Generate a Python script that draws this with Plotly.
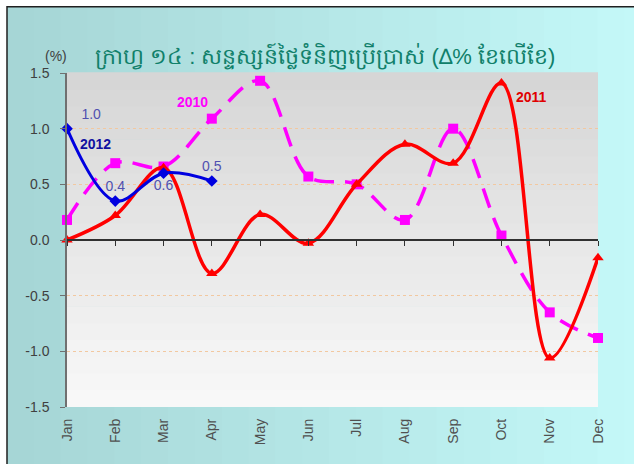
import plotly.graph_objects as go


# ---------------------------------------------------
# Data
# ---------------------------------------------------
MONTHS = ["Jan", "Feb", "Mar", "Apr", "May", "Jun",
          "Jul", "Aug", "Sep", "Oct", "Nov", "Dec"]

Y2010 = [0.18, 0.69, 0.66, 1.09, 1.43, 0.57, 0.50, 0.18, 1.00, 0.04, -0.65, -0.88]
Y2011 = [0.00, 0.22, 0.65, -0.30, 0.23, -0.03, 0.50, 0.86, 0.69, 1.41, -1.06, -0.16]
Y2012 = [1.00, 0.35, 0.60, 0.53]
LABELS_2012 = ["  1.0", "0.4", "0.6", "0.5"]

Y_TICKS = [-1.5, -1.0, -0.5, 0.0, 0.5, 1.0, 1.5]
Y_TICKTEXT = ["-1.5", "-1.0", "-0.5", "0.0", "0.5", "1.0", "1.5"]

TITLE = "ក្រាហ្វ ១៤ : សន្ទស្សន៍ថ្លៃទំនិញប្រើប្រាស់ (∆% ខែលើខែ)"

# ---------------------------------------------------
# Colors
# ---------------------------------------------------
MAGENTA = "#FF00FF"
RED = "#FF0000"
BLUE = "#0000E0"
FONT = "Liberation Sans, Arial, sans-serif"


def mix(c1, c2, t):
    a = [int(c1[i:i + 2], 16) for i in (1, 3, 5)]
    b = [int(c2[i:i + 2], 16) for i in (1, 3, 5)]
    return "#" + "".join(f"{round(a[k] + (b[k] - a[k]) * t):02x}" for k in range(3))


fig = go.Figure()

# background: teal frame gradient (left darker -> right lighter)
shapes = []
n = 24
fx0, fx1 = -0.113, 1.1
for i in range(n):
    t = i / (n - 1)
    shapes.append(dict(
        type="rect", xref="paper", yref="paper", layer="below",
        x0=fx0 + (fx1 - fx0) * i / n, x1=fx0 + (fx1 - fx0) * (i + 1) / n + 0.002,
        y0=-0.25, y1=1.198, line_width=0,
        fillcolor=mix("#a6d6d6", "#c4f8f8", t)))
# frame border
shapes.append(dict(type="rect", xref="paper", yref="paper", layer="below",
                   x0=fx0, x1=1.2, y0=-0.3, y1=1.198,
                   line=dict(color="#202020", width=1.5)))
# plot area gradient (top grey -> bottom white)
m = 20
for i in range(m):
    t = i / (m - 1)
    shapes.append(dict(
        type="rect", xref="paper", yref="paper", layer="below",
        x0=0, x1=1, y0=i / m, y1=(i + 1) / m + 0.002, line_width=0,
        fillcolor=mix("#f8f8f8", "#d6d6d6", t)))

# ---------------------------------------------------
# Series
# ---------------------------------------------------
fig.add_trace(go.Scatter(
    x=MONTHS, y=Y2010, mode="lines+markers", name="2010",
    line=dict(color=MAGENTA, width=3.5, dash="20px,11px", shape="spline", smoothing=1.0),
    marker=dict(symbol="square", size=10, color=MAGENTA),
    cliponaxis=False))

fig.add_trace(go.Scatter(
    x=MONTHS, y=Y2011, mode="lines+markers", name="2011",
    line=dict(color=RED, width=3.5, shape="spline", smoothing=1.0),
    marker=dict(symbol="triangle-up", size=10, color=RED),
    cliponaxis=False))

fig.add_trace(go.Scatter(
    x=MONTHS[:len(Y2012)], y=Y2012, mode="lines+markers+text", name="2012",
    line=dict(color=BLUE, width=3, shape="spline", smoothing=1.0),
    marker=dict(symbol="diamond", size=9, color=BLUE),
    text=LABELS_2012,
    textposition=["top right", "top center", "bottom center", "top center"],
    textfont=dict(family=FONT, size=14, color="#5050B0"),
    cliponaxis=False))

# dummy trace so the zero-line axis is drawn
fig.add_trace(go.Scatter(x=[], y=[], xaxis="x2", showlegend=False))

# ---------------------------------------------------
# Labels
# ---------------------------------------------------
annotations = [
    dict(text=TITLE, xref="paper", yref="paper", x=0.486, y=1.095,
         showarrow=False, font=dict(size=22, color="#10806A")),
    dict(text="(%)", xref="paper", yref="paper", x=-0.02, y=1.05,
         xanchor="center", yanchor="middle",
         showarrow=False, font=dict(family=FONT, size=14, color="#404040")),
    dict(text="<b>2010</b>", x=2.6, y=1.24, showarrow=False,
         font=dict(family=FONT, size=14, color=MAGENTA)),
    dict(text="<b>2011</b>", x=9.62, y=1.28, showarrow=False,
         font=dict(family=FONT, size=14, color="#E00000")),
    dict(text="<b>2012</b>", x=0.58, y=0.86, showarrow=False,
         font=dict(family=FONT, size=14, color="#1010A0")),
]

fig.update_layout(
    width=634, height=464,
    margin=dict(l=67, r=36, t=73, b=57),
    paper_bgcolor="white", plot_bgcolor="rgba(0,0,0,0)",
    showlegend=False,
    shapes=shapes, annotations=annotations,
    font=dict(family=FONT),
    xaxis=dict(
        type="category", range=[0, 11], showgrid=False, zeroline=False,
        showline=False, ticks="", tickangle=-90, ticklabelstandoff=8,
        tickfont=dict(family=FONT, size=14, color="#505050")),
    xaxis2=dict(
        type="linear", range=[0, 11], overlaying="x", anchor="free", position=0.5,
        tick0=0, dtick=1, ticks="outside", ticklen=5, tickcolor="#303030",
        showticklabels=False, showgrid=False, zeroline=False,
        showline=True, linecolor="#303030", linewidth=1.5),
    yaxis=dict(
        range=[-1.5, 1.5], tickvals=Y_TICKS, ticktext=Y_TICKTEXT,
        showgrid=True, gridcolor="#F2C8A0", griddash="dot", gridwidth=1,
        zeroline=False, showline=True, linecolor="#707070", linewidth=1.5,
        ticks="outside", ticklen=5, tickcolor="#707070", ticklabelstandoff=8,
        tickfont=dict(family=FONT, size=14, color="#404040")),
)

fig.write_html("out.html", config={"displayModeBar": False},
               post_script="document.body.style.margin='0';")
